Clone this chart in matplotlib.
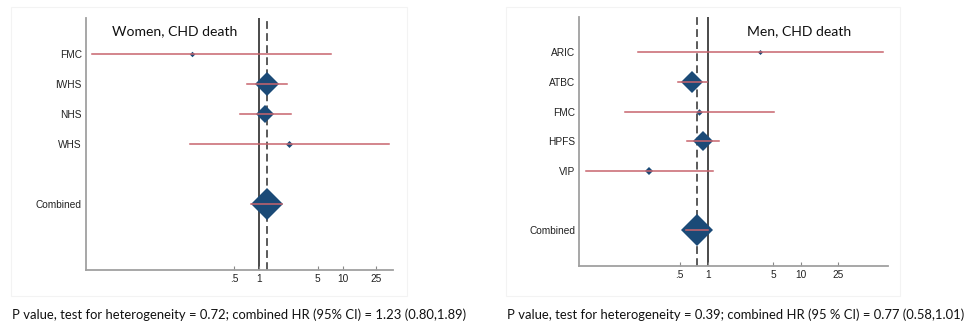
import matplotlib
matplotlib.use("Agg")
import matplotlib.pyplot as plt
import numpy as np
from matplotlib.patches import Rectangle

# ---- data ----
women_studies = ["FMC", "IWHS", "NHS", "WHS"]
women_hr = [0.158, 1.23, 1.18, 2.29]
women_lo = [0.010, 0.72, 0.59, 0.148]
women_hi = [7.16, 2.16, 2.40, 36.0]
women_weight = [2.9, 58.1, 34.3, 4.8]
women_comb = (1.23, 0.80, 1.89)
women_note = "P value, test for heterogeneity = 0.72; combined HR (95% CI) = 1.23 (0.80,1.89)"

men_studies = ["ARIC", "ATBC", "FMC", "HPFS", "VIP"]
men_hr = [3.63, 0.684, 0.807, 0.897, 0.237]
men_lo = [0.178, 0.484, 0.129, 0.60, 0.0498]
men_hi = [74.8, 0.975, 5.13, 1.33, 1.15]
men_weight = [2.4, 46.3, 4.2, 42.1, 5.0]
men_comb = (0.77, 0.58, 1.01)
men_note = "P value, test for heterogeneity = 0.39; combined HR (95 % CI) = 0.77 (0.58,1.01)"

xticks = [0.5, 1, 5, 10, 25]
xticklabels = [".5", "1", "5", "10", "25"]

NAVY = "#1b4a77"
RED = "#c8646d"

fig = plt.figure(figsize=(9.72, 3.27), dpi=100)

# faint panel boxes
for (x0, x1) in [(10.5, 407), (506, 900)]:
    fig.patches.append(Rectangle((x0 / 972, 1 - 296 / 327), (x1 - x0) / 972, (296 - 7) / 327,
                                 transform=fig.transFigure, fill=False, ec="#f3f3f3", lw=0.8))


def panel(rect, studies, hr, lo, hi, weight, comb, xlim, title, title_x, note, note_x):
    ax = fig.add_axes(rect)
    n = len(studies)
    ys = list(range(1, n + 1))
    ycomb = n + 2
    ax.axvline(1, color="#4a4a4a", lw=1.4, zorder=1)
    ax.axvline(comb[0], color="#5a5a5a", lw=1.4, ls=(0, (4, 2.2)), zorder=1)
    for y, h, l, u, w in zip(ys, hr, lo, hi, weight):
        ax.plot([h], [y], marker="D", ms=1.63 * np.sqrt(w), color=NAVY, mec=NAVY, mew=0, zorder=2)
        ax.plot([l, u], [y, y], color=RED, lw=1.1, zorder=3)
    ax.plot([comb[0]], [ycomb], marker="D", ms=16, color=NAVY, mew=0, zorder=2)
    ax.plot([comb[1], comb[2]], [ycomb, ycomb], color=RED, lw=1.1, zorder=3)
    ax.set_xscale("log")
    ax.set_xlim(*xlim)
    ax.set_ylim(8.2, -0.2)
    ax.set_yticks(ys + [ycomb])
    ax.set_yticklabels(studies + ["Combined"], fontsize=7.3, color="#222222",
                       family=["Liberation Sans", "DejaVu Sans"])
    ax.set_xticks(xticks)
    ax.set_xticklabels(xticklabels, fontsize=7.3, color="#222222",
                       family=["Liberation Sans", "DejaVu Sans"])
    ax.xaxis.set_minor_locator(matplotlib.ticker.NullLocator())
    ax.tick_params(axis="y", length=0, pad=3)
    ax.tick_params(axis="x", direction="in", length=3, width=0.8, color="#888888", pad=3)
    for s in ["top", "right"]:
        ax.spines[s].set_visible(False)
    for s in ["left", "bottom"]:
        ax.spines[s].set_color("#a0a0a0")
        ax.spines[s].set_linewidth(1.3)
    ax.set_facecolor("none")
    fig.text(title_x / 972, 1 - 31 / 327, title, fontsize=10.1, family=["Lato", "DejaVu Sans"],
             color="#111111", va="center", ha="left")
    fig.text(note_x / 972, 1 - 315 / 327, note, fontsize=9.4, family=["Lato", "DejaVu Sans"],
             color="#111111", va="center", ha="left")
    return ax


panel([86 / 972, 1 - 270 / 327, 307 / 972, 252 / 327], women_studies, women_hr, women_lo,
      women_hi, women_weight, women_comb, (0.00841, 39.8), "Women, CHD death", 111.7,
      women_note, 11.7)
panel([579.3 / 972, 1 - 265.7 / 327, 309 / 972, 249 / 327], men_studies, men_hr, men_lo,
      men_hi, men_weight, men_comb, (0.0422, 85.9), "Men, CHD death", 746.7,
      men_note, 506.7)

fig.savefig("out.png", dpi=100)
